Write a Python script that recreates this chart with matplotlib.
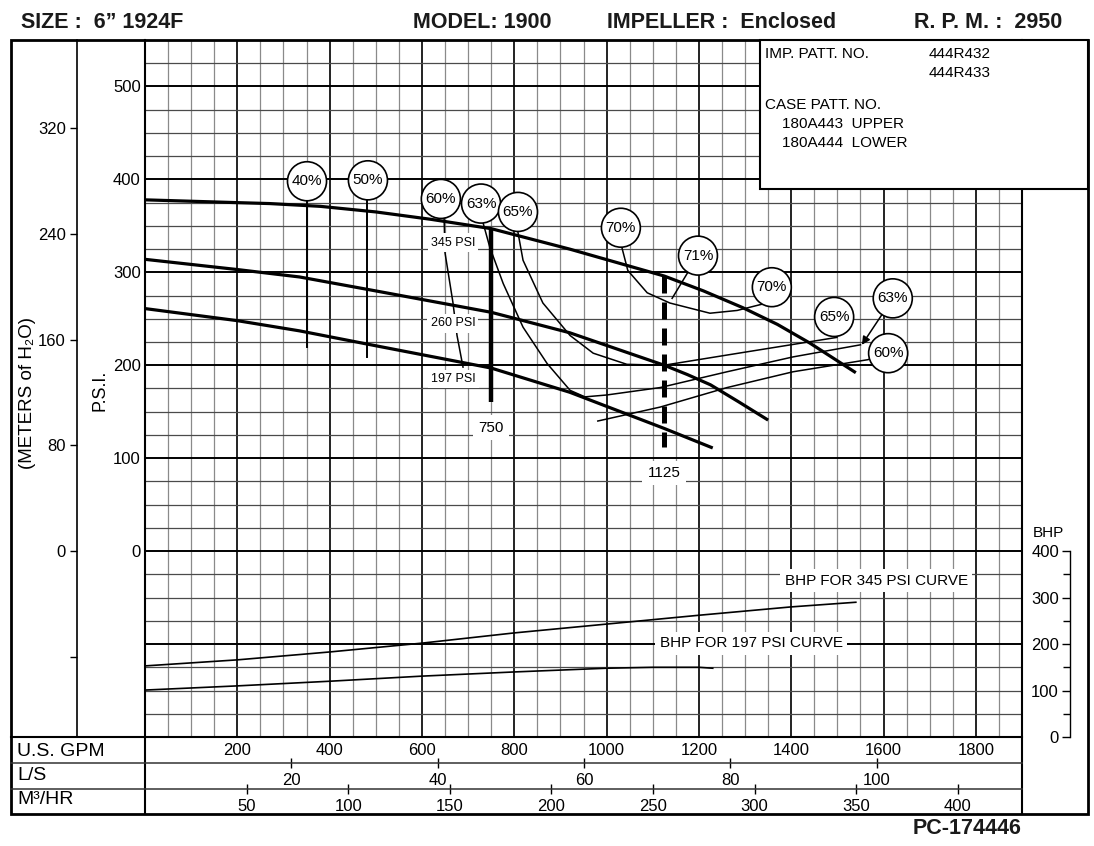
import numpy as np
import matplotlib
matplotlib.use("Agg")
import matplotlib.pyplot as plt
from matplotlib.patches import Rectangle

plt.rcParams['font.family'] = ['Liberation Sans', 'DejaVu Sans']

W, H = 1094, 846

# head-capacity curves, US GPM vs PSI, one per impeller trim
head_345_gpm = [0, 200, 270, 380, 500, 620, 750, 920, 1125, 1210, 1295, 1370, 1440, 1540]
head_345_psi = [378, 375, 374, 371, 365, 357, 347, 325, 296, 280, 262, 244, 224, 192]
head_260_gpm = [0, 200, 335, 500, 750, 920, 1125, 1175, 1225, 1285, 1350]
head_260_psi = [314, 303, 295, 280, 257, 235, 200, 190, 179, 161, 141]
head_197_gpm = [0, 200, 335, 500, 750, 920, 1125, 1230]
head_197_psi = [261, 248, 237, 221, 197, 171, 132, 111]

# efficiency curves
eff40_gpm, eff40_psi = [351, 351], [398, 220]
eff50_gpm, eff50_psi = [482, 482], [399, 209]
eff60a_gpm = [641, 648, 650, 667, 676, 689]
eff60a_psi = [379, 358, 321, 268, 232, 198]
eff60b_gpm = [981, 1116, 1261, 1404, 1566, 1610]
eff60b_psi = [140, 155, 176, 193, 206, 213]
eff63_gpm = [728, 732, 747, 776, 819, 871, 921, 953, 1000, 1116, 1261, 1404, 1550]
eff63_psi = [374, 354, 327, 288, 241, 202, 173, 166, 168, 176, 193, 209, 222]
eff65_gpm = [808, 808, 819, 862, 921, 971, 1044, 1124, 1261, 1499]
eff65_psi = [365, 343, 313, 267, 232, 213, 201, 200, 211, 230]
eff70_gpm = [1031, 1033, 1046, 1088, 1137, 1224, 1283, 1339, 1358]
eff70_psi = [348, 327, 302, 278, 267, 256, 259, 266, 284]
lead71_gpm, lead71_psi = [1198, 1142], [318, 272]

# efficiency bubbles
pct_labels = ['40%', '50%', '60%', '63%', '65%', '70%', '71%', '70%', '65%', '63%', '60%']
pct_gpm = [351, 483, 641, 728, 808, 1031, 1198, 1358, 1493, 1620, 1610]
pct_psi = [398, 399, 379, 374, 365, 348, 318, 284, 252, 272, 213]

trim_labels = ['345 PSI', '260 PSI', '197 PSI']
trim_gpm = [667, 667, 669]
trim_psi = [332, 245, 185]

# operating points
op_750_psi = [348, 161]
op_1125_psi = [296, 112]

# brake horsepower curves
bhp345_gpm = [0, 200, 400, 600, 800, 1000, 1200, 1400, 1540]
bhp345 = [153, 166, 183, 202, 224, 243, 262, 280, 290]
bhp197_gpm = [0, 200, 400, 600, 800, 1000, 1100, 1200, 1230]
bhp197 = [101, 110, 120, 131, 140, 148, 150, 150, 148]

gpm_ticks = [200, 400, 600, 800, 1000, 1200, 1400, 1600, 1800]
psi_ticks = [0, 100, 200, 300, 400, 500]
lps_ticks = [20, 40, 60, 80, 100]
m3h_ticks = [50, 100, 150, 200, 250, 300, 350, 400]
meter_ticks = [-80, 0, 80, 160, 240, 320]
bhp_ticks = [0, 100, 200, 300, 400]


def bhp_to_psi(b):
    return np.asarray(b) / 2.0 - 200


def psi_to_bhp(p):
    return (np.asarray(p) + 200) * 2.0


fig = plt.figure(figsize=(W / 100, H / 100), dpi=100)
ax = fig.add_axes([145 / W, (H - 737) / H, 877 / W, 697 / H])
ax.set_xlim(0, 1900)
ax.set_ylim(-200, 550)
for s in ax.spines.values():
    s.set_visible(False)

# grid
for g in np.arange(0, 1901, 50):
    major = g % 200 == 0
    ax.axvline(g, color='#222222' if major else '#8a8a8a',
               lw=1.4 if major else 0.9, zorder=0.5)
for p in np.arange(-200, 551, 25):
    major = p % 100 == 0
    ax.axhline(p, color='black' if major else '#4a4a4a',
               lw=1.4 if major else 0.9, zorder=0.5)

# head curves
for gx, py in [(head_345_gpm, head_345_psi), (head_260_gpm, head_260_psi),
               (head_197_gpm, head_197_psi)]:
    ax.plot(gx, py, color='black', lw=2.3, solid_capstyle='butt',
            solid_joinstyle='round', zorder=3)

# efficiency lines
ax.plot(eff40_gpm, eff40_psi, color='black', lw=1.4, zorder=2)
ax.plot(eff50_gpm, eff50_psi, color='black', lw=1.4, zorder=2)
for gx, py in [(eff60a_gpm, eff60a_psi), (eff60b_gpm, eff60b_psi),
               (eff63_gpm, eff63_psi), (eff65_gpm, eff65_psi),
               (eff70_gpm, eff70_psi), (lead71_gpm, lead71_psi)]:
    ax.plot(gx, py, color='black', lw=1.1, solid_joinstyle='round', zorder=2)

ax.annotate('', xy=(1553, 222), xytext=(1620, 272),
            arrowprops=dict(arrowstyle='-|>', color='black', lw=1.1,
                            mutation_scale=12, shrinkA=0, shrinkB=0),
            zorder=2)

# operating points
ax.plot([750, 750], op_750_psi, color='black', lw=3.2,
        solid_capstyle='butt', zorder=3)
ax.plot([1125, 1125], op_1125_psi, color='black', lw=3.6,
        dashes=(3.4, 1.8), dash_capstyle='butt', zorder=3)
ax.text(750, 133, '750', fontsize=11, ha='center', va='center', zorder=5,
        bbox=dict(boxstyle='square,pad=0.35', fc='white', ec='none'))
ax.text(1124, 84, '1125', fontsize=11, ha='center', va='center', zorder=5,
        bbox=dict(boxstyle='square,pad=0.35', fc='white', ec='none'))

for lab, gx, py in zip(trim_labels, trim_gpm, trim_psi):
    ax.text(gx, py, lab, fontsize=9, ha='center', va='center', zorder=5,
            bbox=dict(boxstyle='square,pad=0.25', fc='white', ec='none'))

for lab, gx, py in zip(pct_labels, pct_gpm, pct_psi):
    ax.text(gx, py, lab, fontsize=11, ha='center', va='center', zorder=6,
            bbox=dict(boxstyle='circle,pad=0.28', fc='white', ec='black',
                      lw=1.2))

# BHP curves
ax.plot(bhp345_gpm, bhp_to_psi(bhp345), color='black', lw=1.2, zorder=2)
ax.plot(bhp197_gpm, bhp_to_psi(bhp197), color='black', lw=1.2, zorder=2)
ax.text(1584, -32, 'BHP FOR 345 PSI CURVE', fontsize=11, ha='center',
        va='center', zorder=5,
        bbox=dict(boxstyle='square,pad=0.3', fc='white', ec='none'))
ax.text(1313, -99, 'BHP FOR 197 PSI CURVE', fontsize=11, ha='center',
        va='center', zorder=5,
        bbox=dict(boxstyle='square,pad=0.3', fc='white', ec='none'))

# main ticks: GPM and PSI
ax.set_xticks(gpm_ticks)
ax.set_yticks(psi_ticks)
ax.tick_params(axis='x', length=0, pad=4, labelsize=12)
ax.tick_params(axis='y', length=0, pad=3, labelsize=12)

# L/S and M3/HR rows
lps = ax.secondary_xaxis(-26 / 697, functions=(lambda g: g / 15.8503,
                                                 lambda l: l * 15.8503))
lps.set_ticks(lps_ticks)
lps.tick_params(direction='inout', length=7, width=1, labelsize=12, pad=3.5)
lps.spines['bottom'].set_visible(False)

m3h = ax.secondary_xaxis(-52 / 697, functions=(lambda g: g / 4.40287,
                                                 lambda m: m * 4.40287))
m3h.set_ticks(m3h_ticks)
m3h.tick_params(direction='inout', length=7, width=1, labelsize=12, pad=3.5)
m3h.spines['bottom'].set_visible(False)

# meters of water axis
met = ax.secondary_yaxis(-68 / 877, functions=(lambda p: p * 0.70307,
                                                 lambda m: m / 0.70307))
met.set_ticks(meter_ticks, labels=[''] + [str(v) for v in meter_ticks[1:]])
met.tick_params(length=5, width=1, labelsize=12, pad=3)
met.spines['left'].set_linewidth(1.2)

# BHP axis
bax = ax.secondary_yaxis(925 / 877, functions=(psi_to_bhp, bhp_to_psi))
bax.set_alignment('left')
bax.set_ticks(bhp_ticks)
bax.set_ticks([50, 150, 250, 350], minor=True)
bax.tick_params(which='major', length=6, width=1, labelsize=12, pad=2)
bax.tick_params(which='minor', length=5, width=1)
bax.spines['left'].set_bounds(0, 400)
bax.spines['left'].set_linewidth(1)

# frame and annotations in pixel coordinates
fr = fig.add_axes([0, 0, 1, 1], zorder=5)
fr.set_xlim(0, W)
fr.set_ylim(H, 0)
fr.axis('off')
fr.patch.set_alpha(0)

fr.add_patch(Rectangle((11, 40), 1077, 774, fill=False, ec='black', lw=2))
fr.plot([145, 145], [40, 814], color='black', lw=1.5)
fr.plot([1022, 1022], [40, 814], color='black', lw=1.5)
fr.plot([11, 1022], [737, 737], color='black', lw=1.5)
fr.plot([11, 1022], [763, 763], color='#333333', lw=1.1)
fr.plot([11, 1022], [789, 789], color='#333333', lw=1.1)
fr.add_patch(Rectangle((760, 40), 328, 149, fc='white', ec='black', lw=1.5,
                       zorder=3))

hdr = dict(fontsize=15.5, fontweight='bold', va='center', ha='left',
           color='#1a1a1a')
fr.text(21, 22, 'SIZE :  6” 1924F', **hdr)
fr.text(413, 22, 'MODEL: 1900', **hdr)
fr.text(607, 22, 'IMPELLER :  Enclosed', **hdr)
fr.text(914, 22, 'R. P. M. :  2950', **hdr)
fr.text(1022, 829, 'PC-174446', fontsize=15.5, fontweight='bold',
        va='center', ha='right', color='#1a1a1a')

box = dict(fontsize=11, va='center', ha='left', zorder=4)
fr.text(765, 54, 'IMP. PATT. NO.', **box)
fr.text(929, 54, '444R432', **box)
fr.text(929, 73, '444R433', **box)
fr.text(765, 105, 'CASE PATT. NO.', **box)
fr.text(782, 124, '180A443  UPPER', **box)
fr.text(782, 143, '180A444  LOWER', **box)

fr.text(28, 393, '(METERS of H₂O)', fontsize=13.5, rotation=90,
        ha='center', va='center')
fr.text(100, 390, 'P.S.I.', fontsize=13, rotation=90, ha='center',
        va='center')
fr.text(1048, 533, 'BHP', fontsize=11, ha='center', va='center')

fr.text(17, 752, 'U.S. GPM', fontsize=14, ha='left', va='center')
fr.text(17, 776, 'L/S', fontsize=14, ha='left', va='center')
fr.text(17, 800, 'M³/HR', fontsize=14, ha='left', va='center')

fig.savefig('out.png', dpi=100)
